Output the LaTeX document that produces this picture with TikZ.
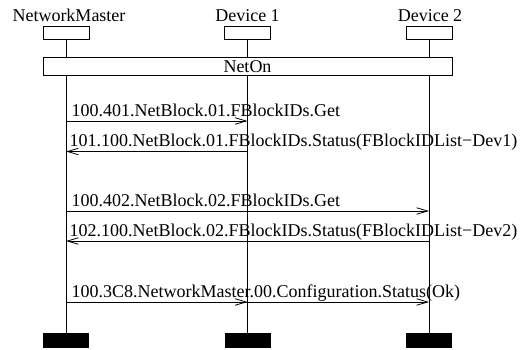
\documentclass[tikz,border=0pt]{standalone}
\usepackage{fontspec}
\setmainfont{Liberation Serif}
\usetikzlibrary{arrows.meta}
\begin{document}
\begin{tikzpicture}[x=1pt,y=-1pt,
  every node/.style={font=\fontsize{18}{20}\selectfont, inner sep=0pt},
  headbox/.style={draw, line width=0.8pt, fill=white, minimum width=46pt, minimum height=13pt},
  endbar/.style={fill=black, minimum width=46pt, minimum height=15pt},
  lifeline/.style={line width=0.8pt},
  msg/.style={line width=0.8pt, -{Straight Barb[length=11pt,width=6.5pt,line width=0.8pt]}},
  msglabel/.style={anchor=base west}]
\useasboundingbox (0,0) rectangle (522,349);
% instance heads
\node[headbox] (h1) at (66,32.5) {};
\node[headbox] (h2) at (247.5,32.5) {};
\node[headbox] (h3) at (429,32.5) {};
\node[anchor=base] (n1) at (69,21) {NetworkMaster};
\node[anchor=base] (n2) at (247.5,21) {Device 1};
\node[anchor=base] (n3) at (430,21) {Device 2};
% instance ends
\node[endbar] (e1) at (66,340.8) {};
\node[endbar] (e2) at (247.5,340.8) {};
\node[endbar] (e3) at (429,340.8) {};
% lifelines
\draw[lifeline] (h1.south) -- (e1.north);
\draw[lifeline] (h2.south) -- (e2.north);
\draw[lifeline] (h3.south) -- (e3.north);
% condition across all instances
\node[draw, line width=0.8pt, fill=white, minimum width=408.7pt, minimum height=18pt] (cond) at (247.7,66.3) {};
\node[anchor=base] (condtext) at (247.5,72.5) {NetOn};
% message end points on the lifelines
\coordinate (a1) at (66,121);    \coordinate (b1) at (247.5,121);
\coordinate (a2) at (66,151.5);  \coordinate (b2) at (247.5,151.5);
\coordinate (a3) at (66,211);    \coordinate (c3) at (429,211);
\coordinate (a4) at (66,241);    \coordinate (c4) at (429,241);
\coordinate (a5) at (66,302);    \coordinate (b5) at (247.5,302);  \coordinate (c5) at (429,302);
% messages
\draw[msg] (a1) -- (b1);
\node[msglabel] (l1) at (71.5,116) {100.401.NetBlock.01.FBlockIDs.Get};
\draw[msg] (b2) -- (a2);
\node[msglabel] (l2) at (69.5,146.5) {101.100.NetBlock.01.FBlockIDs.Status(FBlockIDList\textminus Dev1)};
\draw[msg] (a3) -- (c3);
\node[msglabel] (l3) at (71.5,206) {100.402.NetBlock.02.FBlockIDs.Get};
\draw[msg] (c4) -- (a4);
\node[msglabel] (l4) at (69.5,236) {102.100.NetBlock.02.FBlockIDs.Status(FBlockIDList\textminus Dev2)};
\draw[msg] (a5) -- (b5);
\draw[msg] (a5) -- (c5);
\node[msglabel] (l5) at (71.5,297) {100.3C8.NetworkMaster.00.Configuration.Status(Ok)};
\end{tikzpicture}
\end{document}
